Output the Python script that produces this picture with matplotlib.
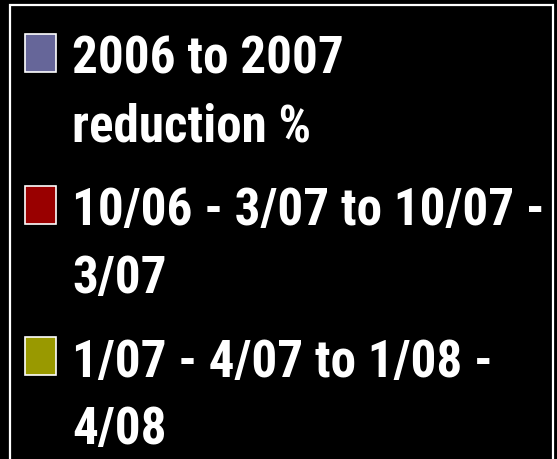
import matplotlib
matplotlib.use("Agg")
import matplotlib.pyplot as plt
from matplotlib.patches import Rectangle
from matplotlib import font_manager

labels = ["2006 to 2007\nreduction %",
          "10/06 - 3/07 to 10/07 -\n3/07",
          "1/07 - 4/07 to 1/08 -\n4/08"]
colors = ["#666699", "#990000", "#999900"]

# the original uses a narrow Arial-like bold face
names = set(f.name for f in font_manager.fontManager.ttflist)
family = "Liberation Sans"
for cand in ["Liberation Sans Narrow", "Arial Narrow", "Roboto Condensed"]:
    if cand in names:
        family = cand
        break

W, H = 557, 459
fig = plt.figure(figsize=(W / 100, H / 100), dpi=100, facecolor="black")
ax = fig.add_axes([0, 0, 1, 1])
ax.set_xlim(0, W)
ax.set_ylim(H, 0)
ax.axis("off")
ax.set_facecolor("black")

# white frame, open at the bottom
ax.plot([9.5, 9.5, 553, 553], [H + 5, 5, 5, H + 5], color="white", lw=1.6,
        solid_joinstyle="miter", clip_on=False)

# shrink the font until the longest line fits between x=72 and x=545
size = 41
r = fig.canvas.get_renderer()
longest = max((l for lab in labels for l in lab.split("\n")), key=len)
t = ax.text(72, 0, longest, fontsize=size, fontweight="bold", family=family)
w = t.get_window_extent(r).width
t.remove()
if w > 473:
    size = size * 473 / w

first_base = 74
entry_step = 151.5
line_step = 67

for i, (lab, col) in enumerate(zip(labels, colors)):
    base = first_base + i * entry_step
    ax.add_patch(Rectangle((25, base - 40), 31, 38, facecolor=col,
                           edgecolor="white", lw=1.2))
    for j, line in enumerate(lab.split("\n")):
        ax.text(72, base + j * line_step, line, color="white", fontsize=size,
                fontweight="bold", family=family, ha="left", va="baseline")

fig.savefig("out.png", dpi=100, facecolor="black")
